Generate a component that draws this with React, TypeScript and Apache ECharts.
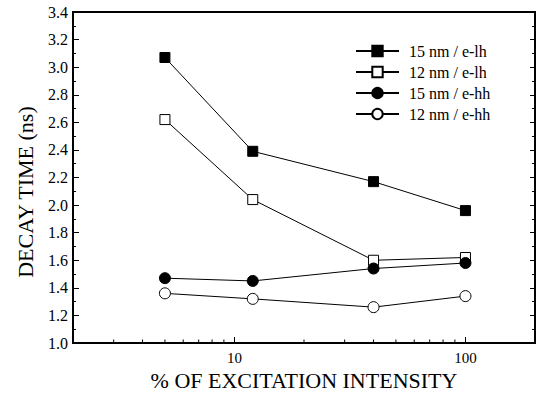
import React, { useEffect, useRef } from "react";
import * as echarts from "echarts";

const intensity = [5, 12, 40, 100];
const lh15 = [3.07, 2.39, 2.17, 1.96];
const lh12 = [2.62, 2.04, 1.6, 1.62];
const hh15 = [1.47, 1.45, 1.54, 1.58];
const hh12 = [1.36, 1.32, 1.26, 1.34];
const seriesNames = ["15 nm / e-lh", "12 nm / e-lh", "15 nm / e-hh", "12 nm / e-hh"];
const xMinorTicks = [3, 4, 5, 6, 7, 8, 9, 20, 30, 40, 50, 60, 70, 80, 90];

const FONT = "Liberation Serif";

export default function App() {
  const ref = useRef<HTMLDivElement>(null);
  useEffect(() => {
    if (!ref.current) return;
    const chart = echarts.init(ref.current, undefined, { renderer: "svg" });
    const mk = (name: string, vals: number[], symbol: string, filled: boolean) => ({
      name,
      type: "line",
      data: intensity.map((x, i) => [x, vals[i]]),
      symbol,
      symbolSize: symbol === "rect" ? 10 : 11,
      lineStyle: { color: "#000", width: 1 },
      itemStyle: { color: filled ? "#000" : "#fff", borderColor: "#000", borderWidth: 1 },
      z: 3,
    });
    chart.setOption({
      animation: false,
      backgroundColor: "#fff",
      textStyle: { fontFamily: FONT },
      grid: { left: 73, right: 2, top: 12, bottom: 53, show: true, borderColor: "#000", borderWidth: 2, backgroundColor: "transparent" },
      legend: {
        data: seriesNames,
        orient: "vertical",
        left: 350,
        top: 38,
        itemWidth: 43,
        itemHeight: 13,
        itemGap: 5,
        textStyle: { fontFamily: FONT, fontSize: 16, color: "#000", padding: [0, 0, 0, 5] },
      },
      xAxis: [
        {
          type: "log",
          logBase: 10,
          min: 2,
          max: 200,
          axisLine: { lineStyle: { color: "#000", width: 2 } },
          axisTick: { inside: true, length: 6, lineStyle: { color: "#000", width: 1 } },
          axisLabel: { fontFamily: FONT, fontSize: 15, color: "#000", margin: 7, showMinLabel: false, showMaxLabel: false },
          splitLine: { show: false },
          minorTick: { show: false },
        },
      ],
      yAxis: [
        {
          type: "value",
          min: 1.0,
          max: 3.4,
          interval: 0.2,
          axisLine: { show: true, lineStyle: { color: "#000", width: 2 } },
          axisTick: { inside: true, length: 6, lineStyle: { color: "#000", width: 1 } },
          minorTick: { show: true, splitNumber: 2, length: 3, lineStyle: { color: "#000", width: 1 } },
          axisLabel: { fontFamily: FONT, fontSize: 16, color: "#000", margin: 5, formatter: (v: number) => v.toFixed(1) },
          splitLine: { show: false },
        },
        {
          type: "value",
          position: "right",
          min: 1.0,
          max: 3.4,
          interval: 0.2,
          axisLine: { show: true, lineStyle: { color: "#000", width: 2 } },
          axisTick: { inside: true, length: 5, lineStyle: { color: "#000", width: 1 } },
          minorTick: { show: true, splitNumber: 2, length: 3, lineStyle: { color: "#000", width: 1 } },
          axisLabel: { show: false },
          splitLine: { show: false },
        },
      ],
      graphic: [
        {
          type: "text",
          x: 25,
          y: 192,
          rotation: Math.PI / 2,
          style: { text: "DECAY TIME (ns)", fontFamily: FONT, fontSize: 22, fill: "#000", align: "center", verticalAlign: "middle" },
        },
        {
          type: "text",
          x: 304,
          y: 380,
          style: { text: "% OF EXCITATION INTENSITY", fontFamily: FONT, fontSize: 22, fill: "#000", align: "center", verticalAlign: "middle" },
        },
      ],
      series: [
        mk(seriesNames[0], lh15, "rect", true),
        mk(seriesNames[1], lh12, "rect", false),
        mk(seriesNames[2], hh15, "circle", true),
        mk(seriesNames[3], hh12, "circle", false),
        {
          type: "custom",
          name: "minorTicks",
          silent: true,
          clip: false,
          data: xMinorTicks.map((v) => [v, 1.0]),
          encode: { x: 0, y: 1 },
          renderItem: (params: any, api: any) => {
            const pt = api.coord([api.value(0), api.value(1)]);
            const cs = params.coordSys;
            const yb = cs.y + cs.height;
            return {
              type: "line",
              shape: { x1: pt[0], y1: yb, x2: pt[0], y2: yb - 3.5 },
              style: { stroke: "#000", lineWidth: 1 },
            };
          },
          z: 1,
        },
      ],
    });
    return () => chart.dispose();
  }, []);
  return <div ref={ref} style={{ position: "fixed", left: 0, top: 0, width: 537, height: 396 }} />;
}
